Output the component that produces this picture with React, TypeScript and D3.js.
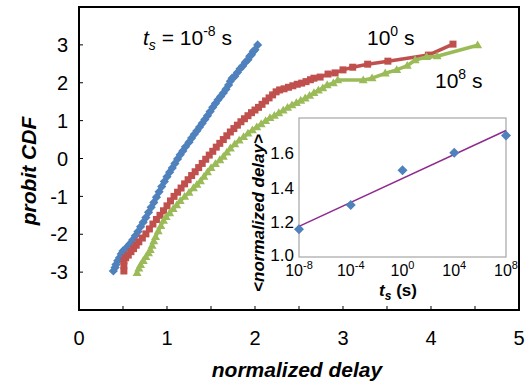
import React from 'react';
import * as d3 from 'd3';

const W = 530;
const H = 386;

// main chart axes
const xTicks = [0, 1, 2, 3, 4, 5];
const xMinorTicks = [0.5, 1, 1.5, 2, 2.5, 3, 3.5, 4, 4.5];
const yTicks = [-3, -2, -1, 0, 1, 2, 3];

// t_s = 1e-8 s (blue diamonds)
const seriesFast: [number, number][] = [
  [0.39,-2.97],[0.41,-2.88],[0.42,-2.80],[0.44,-2.70],[0.46,-2.62],[0.48,-2.52],[0.50,-2.44],[0.53,-2.38],
  [0.56,-2.31],[0.58,-2.25],[0.61,-2.15],[0.64,-2.04],[0.67,-1.93],[0.70,-1.80],[0.73,-1.68],[0.76,-1.56],
  [0.79,-1.42],[0.82,-1.29],[0.85,-1.16],[0.88,-1.02],[0.91,-0.88],[0.94,-0.74],[0.97,-0.61],[1.00,-0.48],
  [1.03,-0.36],[1.06,-0.25],[1.09,-0.13],[1.12,-0.01],[1.15,0.10],[1.18,0.20],[1.21,0.31],[1.25,0.43],
  [1.28,0.54],[1.31,0.64],[1.34,0.73],[1.37,0.83],[1.40,0.93],[1.43,1.03],[1.46,1.13],[1.49,1.24],
  [1.52,1.35],[1.55,1.45],[1.58,1.55],[1.61,1.64],[1.64,1.73],[1.67,1.83],[1.70,1.94],[1.72,2.04],
  [1.74,2.12],[1.77,2.17],[1.80,2.27],[1.83,2.37],[1.86,2.44],[1.89,2.54],[1.92,2.61],[1.94,2.70],
  [1.96,2.74],[1.98,2.83],[2.00,2.87],[2.03,3.00],
];

// t_s = 1e0 s (red squares)
const seriesMid: [number, number][] = [
  [0.51,-2.97],[0.51,-2.83],[0.51,-2.70],[0.53,-2.62],[0.56,-2.55],[0.59,-2.46],[0.62,-2.38],[0.65,-2.29],
  [0.68,-2.20],[0.72,-2.10],[0.76,-1.99],[0.80,-1.86],[0.84,-1.73],[0.88,-1.61],[0.92,-1.50],[0.96,-1.38],
  [1.00,-1.25],[1.04,-1.12],[1.08,-1.00],[1.12,-0.89],[1.16,-0.78],[1.20,-0.67],[1.24,-0.56],[1.28,-0.45],
  [1.32,-0.35],[1.36,-0.24],[1.40,-0.13],[1.44,-0.02],[1.48,0.09],[1.52,0.19],[1.56,0.30],[1.60,0.40],
  [1.64,0.50],[1.68,0.60],[1.72,0.70],[1.76,0.79],[1.80,0.88],[1.84,0.97],[1.88,1.05],[1.92,1.13],
  [1.96,1.21],[2.00,1.28],[2.04,1.35],[2.08,1.43],[2.12,1.52],[2.16,1.60],[2.20,1.68],[2.24,1.76],
  [2.28,1.81],[2.33,1.84],[2.38,1.88],[2.43,1.92],[2.48,1.96],[2.53,1.99],[2.58,2.03],[2.63,2.08],
  [2.67,2.12],[2.74,2.15],[2.83,2.23],[2.91,2.26],[3.00,2.34],[3.11,2.41],[3.28,2.49],[3.51,2.57],
  [3.97,2.73],[4.25,3.02],
];

// t_s = 1e8 s (green triangles)
const seriesSlow: [number, number][] = [
  [0.66,-3.02],[0.68,-2.90],[0.70,-2.81],[0.73,-2.70],[0.76,-2.60],[0.79,-2.50],[0.81,-2.41],[0.83,-2.30],
  [0.85,-2.18],[0.87,-2.07],[0.90,-1.92],[0.93,-1.78],[0.96,-1.64],[0.99,-1.54],[1.03,-1.44],[1.07,-1.33],
  [1.11,-1.23],[1.15,-1.12],[1.20,-1.01],[1.25,-0.90],[1.30,-0.78],[1.34,-0.69],[1.38,-0.60],[1.42,-0.48],
  [1.46,-0.36],[1.50,-0.25],[1.55,-0.14],[1.60,-0.04],[1.64,0.05],[1.68,0.16],[1.72,0.27],[1.77,0.38],
  [1.82,0.48],[1.87,0.57],[1.92,0.66],[1.97,0.75],[2.02,0.83],[2.07,0.91],[2.12,0.99],[2.17,1.07],
  [2.22,1.13],[2.27,1.20],[2.32,1.27],[2.37,1.34],[2.42,1.41],[2.47,1.47],[2.52,1.53],[2.57,1.59],
  [2.62,1.66],[2.67,1.73],[2.72,1.80],[2.77,1.86],[2.82,1.94],[2.89,1.99],[2.94,2.07],[3.23,2.07],
  [3.33,2.12],[3.48,2.25],[3.61,2.34],[3.73,2.45],[3.82,2.60],[3.95,2.68],[4.07,2.70],[4.53,2.99],
];

// inset: mean normalized delay vs t_s
const insetExponents = [-8, -4, 0, 4, 8];
const insetMeanDelay = [1.16, 1.30, 1.50, 1.60, 1.70];
const insetYTicks = [1.0, 1.2, 1.4, 1.6];

const FONT = '"Liberation Sans", Arial, Helvetica, sans-serif';
const BLUE = '#4F81BD';
const RED = '#C0504D';
const GREEN = '#9BBB59';
const PURPLE = '#8E2A8E';

const diamond = (r: number) => `M0,${-r}L${r},0L0,${r}L${-r},0Z`;
const square = (s: number) => `M${-s / 2},${-s / 2}h${s}v${s}h${-s}Z`;
const triangle = (s: number) => {
  const h = s * 0.866;
  return `M0,${-h * 0.6}L${s / 2},${h * 0.4}L${-s / 2},${h * 0.4}Z`;
};

export default function App() {
  const x = d3.scaleLinear().domain([0, 5]).range([79, 519]);
  const y = d3.scaleLinear().domain([-4, 4]).range([310, 7]);
  const line = d3.line<[number, number]>().x(d => x(d[0])).y(d => y(d[1]));

  const ix = d3.scaleLinear().domain([-8, 8]).range([299, 506]);
  const iy = d3.scaleLinear().domain([1.0, 1.8]).range([257, 118]);

  // least-squares fit of the inset points
  const mx = d3.mean(insetExponents)!;
  const my = d3.mean(insetMeanDelay)!;
  const slope =
    d3.sum(insetExponents.map((e, i) => (e - mx) * (insetMeanDelay[i] - my))) /
    d3.sum(insetExponents.map(e => (e - mx) * (e - mx)));
  const fit = (e: number) => my + slope * (e - mx);

  const series = [
    { data: seriesFast, color: BLUE, marker: diamond(4.6) },
    { data: seriesMid, color: RED, marker: square(7) },
    { data: seriesSlow, color: GREEN, marker: triangle(9) },
  ];

  return (
    <svg width={W} height={H} style={{ position: 'absolute', left: 0, top: 0, background: '#fff' }} fontFamily={FONT}>
      <rect x={0} y={0} width={W} height={H} fill="#fff" />
      {/* series */}
      {series.map((s, si) => (
        <g key={si}>
          <path d={line(s.data) || ''} fill="none" stroke={s.color} strokeWidth={3.5} strokeLinejoin="round" />
          {s.data.map((d, i) => (
            <path key={i} d={s.marker} transform={`translate(${x(d[0])},${y(d[1])})`} fill={s.color} />
          ))}
        </g>
      ))}

      {/* frame */}
      <rect x={79} y={7} width={440} height={303} fill="none" stroke="#000" strokeWidth={2} />
      {xMinorTicks.map(t => (
        <line key={t} x1={x(t)} x2={x(t)} y1={310} y2={306} stroke="#000" strokeWidth={1} />
      ))}
      {yTicks.map(t => (
        <line key={t} x1={79} x2={83} y1={y(t)} y2={y(t)} stroke="#000" strokeWidth={1} />
      ))}
      {xTicks.map(t => (
        <text key={t} x={x(t)} y={345} fontSize={20} textAnchor="middle" fill="#000">{t}</text>
      ))}
      {yTicks.map(t => (
        <text key={t} x={68} y={y(t)} dy="0.36em" fontSize={20} textAnchor="end" fill="#000">
          {t < 0 ? `-${Math.abs(t)}` : t}
        </text>
      ))}
      <text x={297} y={377} fontSize={21} fontWeight="bold" fontStyle="italic" textAnchor="middle">normalized delay</text>
      <text transform="translate(36,171) rotate(-90)" fontSize={21} fontWeight="bold" fontStyle="italic" textAnchor="middle">probit CDF</text>

      {/* annotations */}
      <text x={143} y={45} fontSize={21}>
        <tspan fontStyle="italic">t</tspan>
        <tspan fontStyle="italic" fontSize={14} dy={5}>s</tspan>
        <tspan dy={-5}> = 10</tspan>
        <tspan fontSize={14} dy={-9}>-8</tspan>
        <tspan dy={9}> s</tspan>
      </text>
      <text x={367} y={45} fontSize={21}>
        <tspan>10</tspan>
        <tspan fontSize={14} dy={-9}>0</tspan>
        <tspan dy={9}> s</tspan>
      </text>
      <text x={435} y={88} fontSize={21}>
        <tspan>10</tspan>
        <tspan fontSize={14} dy={-9}>8</tspan>
        <tspan dy={9}> s</tspan>
      </text>

      {/* inset */}
      <rect x={299} y={118} width={207} height={139} fill="#fff" stroke="#A6A6A6" strokeWidth={1.2} />
      <line x1={ix(-8)} x2={ix(8)} y1={iy(fit(-8))} y2={iy(fit(8))} stroke={PURPLE} strokeWidth={1.5} />
      {insetExponents.map((e, i) => (
        <path key={e} d={diamond(5)} transform={`translate(${ix(e)},${iy(insetMeanDelay[i])})`} fill={BLUE} />
      ))}
      {insetYTicks.map(t => (
        <text key={t} x={294} y={iy(t) - (t === 1.0 ? 2 : 0)} dy="0.36em" fontSize={17} textAnchor="end">{t.toFixed(1)}</text>
      ))}
      {insetExponents.map(e => (
        <text key={e} x={ix(e)} y={276} fontSize={16} textAnchor="middle">
          <tspan>10</tspan>
          <tspan fontSize={11} dy={-7}>{e}</tspan>
        </text>
      ))}
      <text x={398} y={296} fontSize={17} fontWeight="bold" textAnchor="middle">
        <tspan fontStyle="italic">t</tspan>
        <tspan fontStyle="italic" fontSize={12} dy={4}>s</tspan>
        <tspan dy={-4}> (s)</tspan>
      </text>
      <text transform="translate(264,213) rotate(-90)" fontSize={17} fontWeight="bold" fontStyle="italic" textAnchor="middle">
        {'<normalized delay>'}
      </text>
    </svg>
  );
}
